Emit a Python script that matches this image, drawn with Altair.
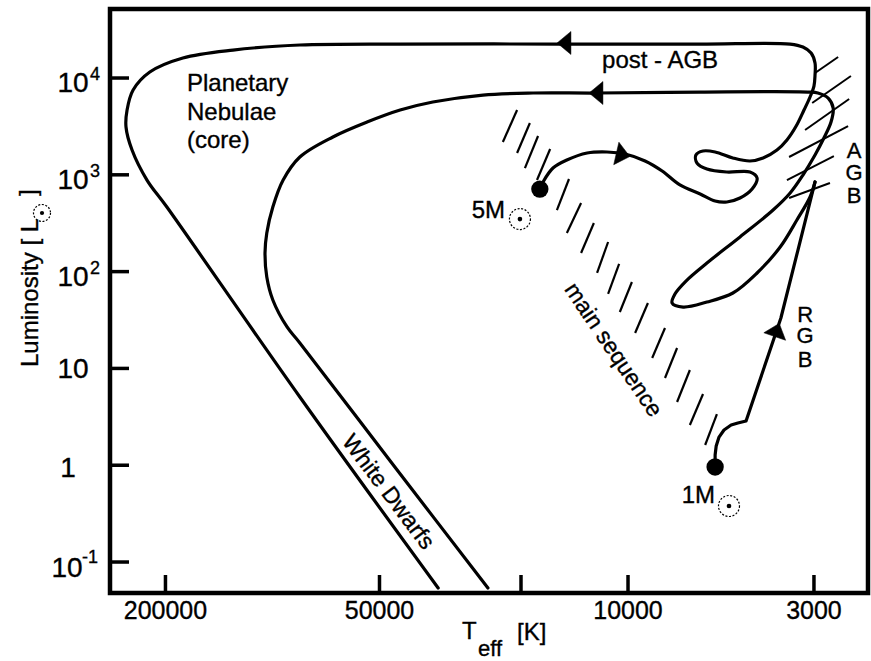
import altair as alt
import pandas as pd

FONT = "Liberation Sans"
W, H = 758, 584

# ---------------- data (log10 Teff [K], log10 L [Lsun]) ----------------
x_domain = [3.325, 5.457]
y_domain = [-1.320, 4.713]

x_tick_vals = [5.301, 4.699, 4.301, 4.0, 3.477]
x_tick_labels = ["200000", "50000", "", "10000", "3000"]
y_tick_vals = [4, 3, 2, 1, 0, -1]

# 5 Msun track: ZAMS -> blue loop -> AGB -> post-AGB -> white dwarf
track5_logT = [4.248, 4.239, 4.211, 4.172, 4.115, 4.059, 4.008, 3.952, 3.904, 3.854,
               3.797, 3.755, 3.722, 3.685, 3.651, 3.637, 3.657, 3.722, 3.778, 3.806,
               3.809, 3.789, 3.755, 3.705, 3.657, 3.620, 3.581, 3.553, 3.527, 3.505,
               3.488, 3.477, 3.474, 3.474, 3.485, 3.508, 3.544, 3.797, 4.191, 4.641,
               4.923, 5.111, 5.252, 5.345, 5.392, 5.409, 5.412, 5.395, 5.353, 5.297,
               4.923, 4.534]
track5_logL = [2.853, 2.926, 3.070, 3.153, 3.225, 3.236, 3.215, 3.143, 3.039, 2.895,
               2.802, 2.729, 2.719, 2.760, 2.853, 2.967, 3.029, 3.029, 3.060, 3.122,
               3.205, 3.246, 3.236, 3.174, 3.143, 3.174, 3.256, 3.360, 3.504, 3.669,
               3.804, 3.917, 4.031, 4.155, 4.258, 4.320, 4.351, 4.351, 4.351, 4.351,
               4.341, 4.289, 4.207, 4.062, 3.876, 3.669, 3.494, 3.256, 2.946, 2.667,
               0.705, -1.268]

# 1 Msun track, part a: ZAMS -> subgiant -> RGB tip
track1a_logT = [3.755, 3.755, 3.752, 3.744, 3.730, 3.710, 3.691, 3.668, 3.570, 3.522, 3.474]
track1a_logL = [-0.018, 0.106, 0.199, 0.291, 0.364, 0.415, 0.436, 0.457, 1.521, 2.223, 2.926]

# 1 Msun track, part b: RGB tip -> HB loop -> AGB -> post-AGB -> white dwarf
track1b_logT = [3.474, 3.488, 3.525, 3.572, 3.637, 3.705, 3.778, 3.845, 3.876, 3.868,
                3.837, 3.778, 3.685, 3.592, 3.544, 3.508, 3.474, 3.449, 3.429, 3.423,
                3.437, 3.466, 3.494, 3.797, 4.087, 4.267, 4.408, 4.549, 4.641, 4.734,
                4.830, 4.923, 4.970, 4.999, 5.016, 5.021, 5.016, 4.999, 4.959, 4.923,
                4.658, 4.394]
track1b_logL = [2.926, 2.771, 2.533, 2.254, 1.986, 1.779, 1.686, 1.634, 1.676, 1.769,
                1.903, 2.089, 2.358, 2.636, 2.812, 2.998, 3.205, 3.380, 3.545, 3.690,
                3.793, 3.845, 3.855, 3.855, 3.845, 3.845, 3.824, 3.752, 3.669, 3.545,
                3.391, 3.184, 2.946, 2.667, 2.399, 2.192, 1.944, 1.707, 1.428, 1.263,
                -0.008, -1.268]

# main-sequence hatching (lower end -> upper end)
ms_logT1 = [4.352, 4.312, 4.290, 4.256, 4.200, 4.172, 4.132, 4.087, 4.056, 4.023, 3.980, 3.932, 3.896, 3.862, 3.826, 3.783]
ms_logL1 = [3.339, 3.225, 3.070, 2.946, 2.636, 2.399, 2.192, 1.986, 1.769, 1.583, 1.366, 1.108, 0.901, 0.653, 0.415, 0.209]
ms_logT2 = [4.312, 4.276, 4.253, 4.219, 4.166, 4.132, 4.096, 4.056, 4.025, 3.989, 3.944, 3.896, 3.862, 3.826, 3.789, 3.750]
ms_logL2 = [3.669, 3.535, 3.401, 3.267, 2.957, 2.709, 2.502, 2.306, 2.079, 1.893, 1.676, 1.418, 1.211, 0.984, 0.736, 0.529]

# AGB hatching
agb_logT1 = [3.474, 3.482, 3.502, 3.547, 3.553, 3.547]
agb_logL1 = [4.052, 3.742, 3.463, 3.184, 2.946, 2.760]
agb_logT2 = [3.409, 3.373, 3.378, 3.381, 3.421, 3.432]
agb_logL2 = [4.217, 4.021, 3.783, 3.504, 3.194, 2.915]

# starting points (ZAMS) of the two tracks and their solar-mass symbols
start_logT = [4.248, 3.755]
start_logL = [2.853, -0.018]
sun_logT = [4.304, 3.716]
sun_logL = [2.543, -0.421]

# arrowheads: (logT, logL, direction, rotation)
arrow_logT = [4.180, 4.090, 4.014, 3.581]
arrow_logL = [4.362, 3.845, 3.205, 1.397]
arrow_dir = ["left", "left", "right", "up"]
arrow_rot = [0, 0, 13, 19]

# annotations: (text, logT, logL, size, align, baseline, angle)
notes = [
    ("Planetary", 5.2405, 3.866, 24, "left", "alphabetic", 0),
    ("Nebulae", 5.2405, 3.566, 24, "left", "alphabetic", 0),
    ("(core)", 5.2405, 3.277, 24, "left", "alphabetic", 0),
    ("post - AGB", 4.073, 4.103, 24, "left", "alphabetic", 0),
    ("5M", 4.346, 2.554, 24, "right", "alphabetic", 0),
    ("1M", 3.755, -0.390, 24, "right", "alphabetic", 0),
    ("A", 3.364, 3.174, 22, "center", "alphabetic", 0),
    ("G", 3.364, 2.946, 22, "center", "alphabetic", 0),
    ("B", 3.364, 2.709, 22, "center", "alphabetic", 0),
    ("R", 3.502, 1.479, 22, "center", "alphabetic", 0),
    ("G", 3.502, 1.263, 22, "center", "alphabetic", 0),
    ("B", 3.502, 1.015, 22, "center", "alphabetic", 0),
    ("main sequence", 4.042, 1.190, 23, "center", "middle", 56),
    ("White Dwarfs", 4.675, -0.277, 23, "center", "middle", 53),
]

# ---------------- helpers ----------------
xs = alt.Scale(domain=x_domain, reverse=True, nice=False, zero=False)
ys = alt.Scale(domain=y_domain, nice=False, zero=False)
TXT = dict(font=FONT, color="black", stroke="black", strokeWidth=0.35)


def X(f):
    return alt.X(f"{f}:Q", scale=xs, axis=None)


def Y(f):
    return alt.Y(f"{f}:Q", scale=ys, axis=None)


def track(tl, ll, interp):
    df = pd.DataFrame({"t": tl, "l": ll, "i": list(range(len(tl)))})
    return alt.Chart(df).mark_line(color="black", strokeWidth=3.2, interpolate=interp,
                                   strokeCap="round", strokeJoin="round").encode(
        x=X("t"), y=Y("l"), order=alt.Order("i:Q"))


def hatch(t1, l1, t2, l2, w):
    df = pd.DataFrame({"t1": t1, "l1": l1, "t2": t2, "l2": l2})
    return alt.Chart(df).mark_rule(color="black", strokeWidth=w, strokeCap="butt").encode(
        x=X("t1"), y=Y("l1"), x2="t2:Q", y2="l2:Q")


PATHS = {
    "left": "M -0.6 0 L 0.6 -1 L 0.6 1 Z",
    "right": "M 0.6 0 L -0.6 -1 L -0.6 1 Z",
    "up": "M 0 -0.6 L 1 0.6 L -1 0.6 Z",
}


def arrow(t, l, d, rot):
    df = pd.DataFrame({"t": [t], "l": [l]})
    return alt.Chart(df).mark_point(shape=PATHS[d], size=529, filled=True, fill="black",
                                    stroke="black", strokeWidth=0.5, opacity=1,
                                    angle=rot).encode(x=X("t"), y=Y("l"))


def note(s, t, l, size, align, baseline, angle):
    df = pd.DataFrame({"t": [t], "l": [l], "s": [s]})
    return alt.Chart(df).mark_text(fontSize=size, align=align, baseline=baseline,
                                   angle=angle, **TXT).encode(
        x=X("t"), y=Y("l"), text="s:N")


def ptext(s, px, py, size, align="left", baseline="alphabetic", angle=0):
    df = pd.DataFrame({"s": [s]})
    return alt.Chart(df).mark_text(fontSize=size, align=align, baseline=baseline,
                                   angle=angle, **TXT).encode(
        x=alt.value(px), y=alt.value(py), text="s:N")


def sun_px(px, py, d):
    df = pd.DataFrame({"a": [0]})
    ring = alt.Chart(df).mark_point(shape="circle", filled=False, size=d * d, stroke="black",
                                    strokeWidth=1.2, strokeDash=[2, 1.6], opacity=1).encode(
        x=alt.value(px), y=alt.value(py))
    dot = alt.Chart(df).mark_point(shape="circle", filled=True, size=18, color="black",
                                   opacity=1).encode(x=alt.value(px), y=alt.value(py))
    return [ring, dot]


layers = []
layers.append(hatch(ms_logT1, ms_logL1, ms_logT2, ms_logL2, 2.2))
layers.append(hatch(agb_logT1, agb_logL1, agb_logT2, agb_logL2, 2.0))
layers.append(track(track5_logT, track5_logL, "catmull-rom"))
layers.append(track(track1a_logT, track1a_logL, "linear"))
layers.append(track(track1b_logT, track1b_logL, "catmull-rom"))
for t, l, d, r in zip(arrow_logT, arrow_logL, arrow_dir, arrow_rot):
    layers.append(arrow(t, l, d, r))

start_df = pd.DataFrame({"t": start_logT, "l": start_logL})
layers.append(alt.Chart(start_df).mark_point(shape="circle", filled=True, size=300,
                                             color="black", opacity=1).encode(x=X("t"), y=Y("l")))
sun_df = pd.DataFrame({"t": sun_logT, "l": sun_logL})
layers.append(alt.Chart(sun_df).mark_point(shape="circle", filled=False, size=441, stroke="black",
                                           strokeWidth=1.2, strokeDash=[2, 1.6], opacity=1)
              .encode(x=X("t"), y=Y("l")))
layers.append(alt.Chart(sun_df).mark_point(shape="circle", filled=True, size=22, color="black",
                                           opacity=1).encode(x=X("t"), y=Y("l")))

for n in notes:
    layers.append(note(*n))

# ticks (inward)
xt_df = pd.DataFrame({"v": x_tick_vals, "lab": x_tick_labels})
layers.append(alt.Chart(xt_df).mark_rule(color="black", strokeWidth=3.5).encode(
    x=X("v"), y=alt.value(H), y2=alt.value(H - 18)))
layers.append(alt.Chart(xt_df).mark_text(fontSize=25, baseline="alphabetic", **TXT).encode(
    x=X("v"), y=alt.value(610), text="lab:N"))
yt_df = pd.DataFrame({"v": y_tick_vals})
layers.append(alt.Chart(yt_df).mark_rule(color="black", strokeWidth=3.5).encode(
    y=Y("v"), x=alt.value(0), x2=alt.value(19)))

# y tick labels
ylab_pow_df = pd.DataFrame({"v": [4, 3, 2], "sup": ["4", "3", "2"]})
layers.append(alt.Chart(ylab_pow_df).mark_text(fontSize=28, align="center",
                                               baseline="alphabetic", dy=14, **TXT).encode(
    y=Y("v"), x=alt.value(-37), text=alt.value("10")))
layers.append(alt.Chart(ylab_pow_df).mark_text(fontSize=18, align="left",
                                               baseline="alphabetic", dy=2, **TXT).encode(
    y=Y("v"), x=alt.value(-20), text="sup:N"))
ylab_neg_df = pd.DataFrame({"v": [-1], "sup": ["-1"]})
layers.append(alt.Chart(ylab_neg_df).mark_text(fontSize=28, align="center",
                                               baseline="alphabetic", dy=15, **TXT).encode(
    y=Y("v"), x=alt.value(-43), text=alt.value("10")))
layers.append(alt.Chart(ylab_neg_df).mark_text(fontSize=18, align="left",
                                               baseline="alphabetic", dy=1, **TXT).encode(
    y=Y("v"), x=alt.value(-28), text="sup:N"))
layers.append(alt.Chart(pd.DataFrame({"v": [1]})).mark_text(
    fontSize=28, align="center", baseline="alphabetic", dy=10, **TXT).encode(
    y=Y("v"), x=alt.value(-37), text=alt.value("10")))
layers.append(alt.Chart(pd.DataFrame({"v": [0]})).mark_text(
    fontSize=28, align="center", baseline="alphabetic", dy=12, **TXT).encode(
    y=Y("v"), x=alt.value(-42), text=alt.value("1")))

# axis titles
layers.append(ptext("Luminosity [ L", -72, 358, 24, angle=270))
layers += sun_px(-68, 204, 17)
layers.append(ptext("]", -74, 187, 24, angle=270))
layers.append(ptext("T", 352, 630, 24))
layers.append(ptext("eff", 368, 647, 22))
layers.append(ptext("[K]", 407, 631, 24))

chart = alt.layer(*layers).properties(
    width=W, height=H,
    padding={"left": 110, "top": 9, "right": 3, "bottom": 68},
    autosize=alt.AutoSizeParams(type="none"),
    background="white",
).configure_view(stroke="black", strokeWidth=4.5)

chart.save("out.html", embed_options={"renderer": "svg", "actions": False})
